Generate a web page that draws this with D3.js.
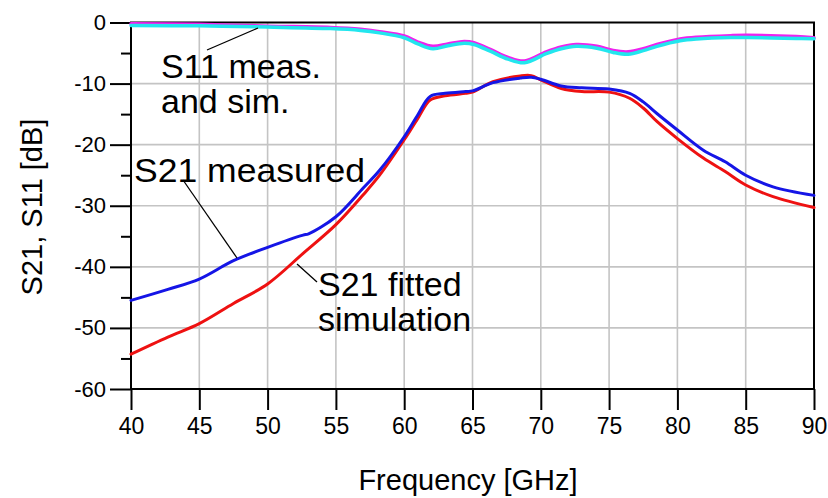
<!DOCTYPE html>
<html>
<head>
<meta charset="utf-8">
<script src="https://cdn.jsdelivr.net/npm/d3@7"></script>
<style>
  html, body { margin: 0; padding: 0; background: #fff; }
  svg { display: block; font-family: Arial, "Liberation Sans", sans-serif; }
</style>
</head>
<body>
<svg id="chart" width="828" height="498"></svg>
<script>
// Frequency axis ticks (GHz) and level ticks (dB)
const xTicks = [40, 45, 50, 55, 60, 65, 70, 75, 80, 85, 90];
const yTicks = [0, -10, -20, -30, -40, -50, -60];
const yMinorTicks = [-5, -15, -25, -35, -45, -55];

// S11, measured (magenta) and simulated (cyan): [GHz, dB]
const s11Meas = [
  [40, -0.2], [45, -0.3], [50, -0.6], [54.6, -0.8], [56.8, -1.1], [58.2, -1.5],
  [60, -2.2], [61, -3.2], [62.1, -3.9], [63.2, -3.5], [64.4, -3.1], [65.1, -3.3],
  [66.3, -4.4], [67.6, -5.7], [68.8, -6.3], [70.4, -4.8], [71.5, -4.0], [72.6, -3.6],
  [74.1, -3.9], [75.3, -4.6], [76.4, -4.8], [77.5, -4.3], [78.5, -3.6], [80.2, -2.7],
  [81.4, -2.4], [83.9, -2.15], [85.1, -2.1], [88.7, -2.3], [90, -2.5]
];
const s11Sim = [
  [40, -0.5], [45, -0.55], [50, -0.75], [54.6, -1.0], [56.8, -1.3], [58.2, -1.7],
  [60, -2.5], [61, -3.5], [62.1, -4.3], [63.2, -3.8], [64.4, -3.4], [65.1, -3.6],
  [66.3, -4.7], [67.6, -6.0], [68.8, -6.6], [70.4, -5.1], [71.5, -4.3], [72.6, -3.9],
  [74.1, -4.2], [75.3, -4.9], [76.4, -5.2], [77.5, -4.6], [78.5, -3.9], [80.2, -3.0],
  [81.4, -2.7], [83.9, -2.45], [85.1, -2.45], [88.7, -2.6], [90, -2.65]
];

// S21 measured (blue): [GHz, dB]
const s21Meas = [
  [40, -45.5], [42.7, -43.7], [45, -42.0], [47.5, -39.0], [50, -36.8], [52.6, -34.8],
  [53, -34.6], [55, -31.8], [57, -27.1], [58.2, -24.2], [60, -18.7], [61, -15.1],
  [61.9, -12.1], [63, -11.6], [64.5, -11.3], [65, -11.2], [66.5, -9.85], [68.5, -9.1],
  [69.3, -8.97], [70, -9.3], [71.5, -10.4], [73, -10.7], [75, -10.9], [76.5, -11.6],
  [77.5, -13.0], [78.5, -14.9], [80, -17.6], [81.9, -20.9], [83.5, -22.8], [85, -25.0],
  [87, -26.9], [90, -28.3]
];

// S21 fitted simulation (red): [GHz, dB]
const s21Sim = [
  [40, -54.3], [42.7, -51.5], [45, -49.3], [47.5, -46.0], [50, -42.8], [52.6, -37.8],
  [55, -33.1], [57, -28.2], [58.2, -25.0], [60, -19.2], [61, -15.7], [61.9, -12.7],
  [63, -12.0], [64.5, -11.6], [65, -11.4], [66.5, -9.7], [68.5, -8.75], [69.3, -8.7],
  [70, -9.4], [71.5, -10.8], [73, -11.3], [75, -11.4], [76.5, -12.4], [77.5, -14.0],
  [78.5, -16.2], [80, -19.0], [81.9, -22.2], [83.5, -24.4], [85, -26.6], [87, -28.5],
  [90, -30.3]
];

const svg = d3.select("#chart");
const plotL = 131, plotR = 814, plotT = 22.5, plotB = 389;

const x = d3.scaleLinear().domain([40, 90]).range([plotL, plotR]);
const y = d3.scaleLinear().domain([-60, 0]).range([plotB, plotT]);

// tick labels use a plain hyphen for negative values
const fmt = d => String(d);

// grid
const grid = svg.append("g").attr("stroke", "#c4c4c4").attr("stroke-width", 1.6);
grid.selectAll("line.v").data(xTicks.slice(1, -1)).join("line").attr("class", "v")
  .attr("x1", d => x(d)).attr("x2", d => x(d)).attr("y1", plotT).attr("y2", plotB);
grid.selectAll("line.h").data(yTicks.slice(1, -1)).join("line").attr("class", "h")
  .attr("x1", plotL).attr("x2", plotR).attr("y1", d => y(d)).attr("y2", d => y(d));

// axes
const xAxis = d3.axisBottom(x).tickValues(xTicks).tickSize(21).tickPadding(8).tickFormat(fmt);
const gx = svg.append("g").attr("transform", `translate(0,${plotB})`).call(xAxis);
gx.select(".domain").remove();
gx.selectAll(".tick line").attr("stroke", "#000").attr("stroke-width", 2);
gx.selectAll(".tick text").attr("font-size", 23).attr("fill", "#000")
  .attr("font-family", "Arial, 'Liberation Sans', sans-serif");

const yAxis = d3.axisLeft(y).tickValues(yTicks).tickSize(21).tickPadding(4).tickFormat(fmt);
const gy = svg.append("g").attr("transform", `translate(${plotL},0)`).call(yAxis);
gy.select(".domain").remove();
gy.selectAll(".tick line").attr("stroke", "#000").attr("stroke-width", 2);
gy.selectAll(".tick text").attr("font-size", 22).attr("fill", "#000")
  .attr("font-family", "Arial, 'Liberation Sans', sans-serif");

const yMinor = d3.axisLeft(y).tickValues(yMinorTicks).tickSize(10).tickFormat("");
const gym = svg.append("g").attr("transform", `translate(${plotL},0)`).call(yMinor);
gym.select(".domain").remove();
gym.selectAll(".tick line").attr("stroke", "#000").attr("stroke-width", 2);

// frame
svg.append("rect").attr("x", plotL).attr("y", plotT)
  .attr("width", plotR - plotL).attr("height", plotB - plotT)
  .attr("fill", "none").attr("stroke", "#000").attr("stroke-width", 2);

// curves
const line = d3.line().x(d => x(d[0])).y(d => y(d[1])).curve(d3.curveCatmullRom.alpha(0.5));
const series = [
  { data: s21Sim, color: "#ee1111", width: 3 },
  { data: s21Meas, color: "#1515e6", width: 3 },
  { data: s11Meas, color: "#ee22ee", width: 3.5 },
  { data: s11Sim, color: "#22e6ee", width: 3.5 }
];
svg.append("g").selectAll("path").data(series).join("path")
  .attr("d", d => line(d.data))
  .attr("fill", "none")
  .attr("stroke", d => d.color)
  .attr("stroke-width", d => d.width)
  .attr("stroke-linejoin", "round")
  .attr("stroke-linecap", "round");

// annotations with leader lines
const leaders = [
  [[207, 50], [258, 28]],
  [[183, 180], [237, 258]],
  [[297, 264], [317, 282]]
];
svg.append("g").selectAll("line").data(leaders).join("line")
  .attr("x1", d => d[0][0]).attr("y1", d => d[0][1])
  .attr("x2", d => d[1][0]).attr("y2", d => d[1][1])
  .attr("stroke", "#000").attr("stroke-width", 1.3);

const labels = [
  { lines: ["S11 meas.", "and sim."], x: 161, y: 78 },
  { lines: ["S21 measured"], x: 134, y: 182, len: 231 },
  { lines: ["S21 fitted", "simulation"], x: 318, y: 296 }
];
const lab = svg.append("g").selectAll("text").data(labels).join("text")
  .attr("x", d => d.x).attr("y", d => d.y)
  .attr("font-size", 34).attr("fill", "#000");
lab.selectAll("tspan").data(d => d.lines.map((t, i) => ({ t, i, p: d }))).join("tspan")
  .attr("x", d => d.p.x)
  .attr("dy", d => d.i === 0 ? 0 : 34.5)
  .attr("textLength", d => d.p.len || null)
  .attr("lengthAdjust", d => d.p.len ? "spacingAndGlyphs" : null)
  .text(d => d.t);

// axis titles
svg.append("text").attr("x", 468).attr("y", 490)
  .attr("text-anchor", "middle").attr("font-size", 29).attr("fill", "#000")
  .text("Frequency [GHz]");
svg.append("text")
  .attr("transform", "translate(42,207) rotate(-90)")
  .attr("text-anchor", "middle").attr("font-size", 29).attr("fill", "#000")
  .text("S21, S11 [dB]");
</script>
</body>
</html>
